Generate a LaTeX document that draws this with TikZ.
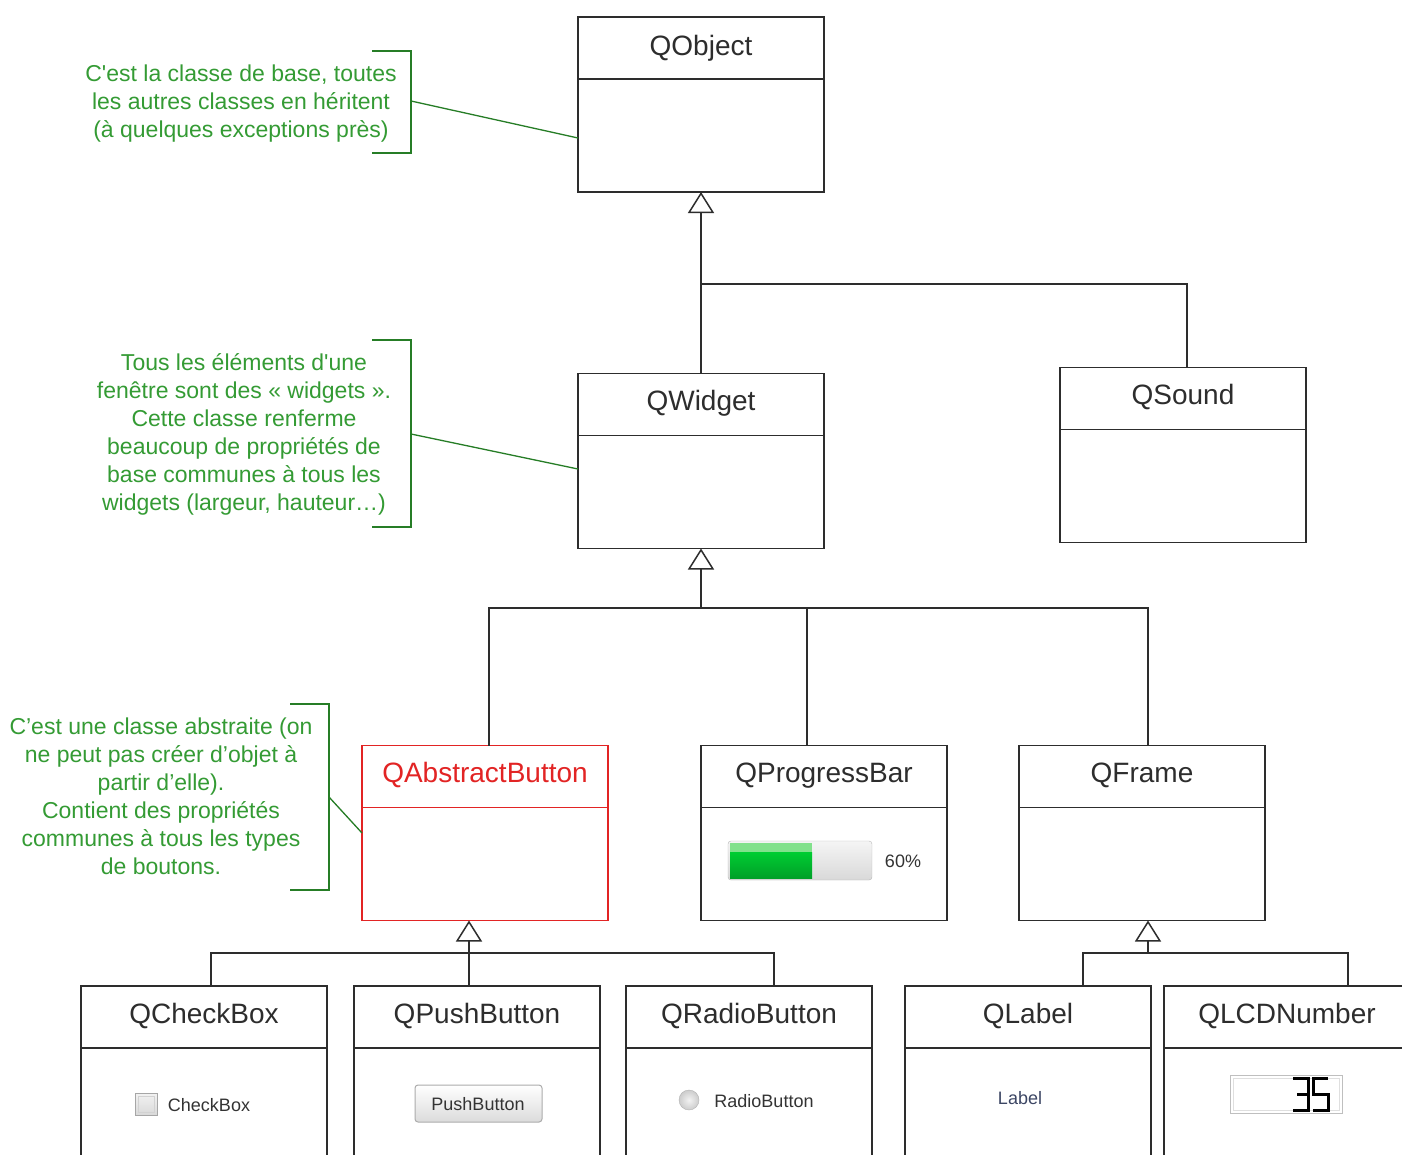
\documentclass[tikz,border=0pt]{standalone}
\usepackage{fontspec}
\setmainfont{Liberation Sans}
\usepackage{xcolor}
\usepackage{tikz}
\usetikzlibrary{arrows.meta}

\definecolor{notegreen}{RGB}{52,155,52}
\definecolor{bracegreen}{RGB}{38,125,38}
\definecolor{abstractred}{RGB}{226,36,36}
\definecolor{labelblue}{RGB}{60,70,100}
\definecolor{barlight}{RGB}{130,225,140}
\definecolor{barmid}{RGB}{0,205,50}
\definecolor{bardark}{RGB}{0,160,40}
\definecolor{umlgray}{RGB}{45,45,45}

\tikzset{
  classbox/.style={draw=umlgray, line width=1.5pt, minimum width=246pt, minimum height=175pt, inner sep=0pt, outer sep=0pt},
  classname/.style={anchor=base, text=umlgray, font=\fontsize{28}{34}\selectfont},
  note/.style={align=center, text=notegreen, font=\fontsize{23}{28}\selectfont},
  brace/.style={draw=bracegreen, line width=1.3pt},
  link/.style={draw=umlgray, line width=1.5pt},
  inherits/.style={link, -{Triangle[width=26pt, length=21pt, fill=white]}},
  widgettext/.style={font=\fontsize{18}{22}\selectfont, text=black!80},
}

\begin{document}
\begin{tikzpicture}[x=1pt, y=-1pt]

\useasboundingbox (0,0) rectangle (1402,1154);
\clip (0,0) rectangle (1402,1154);
\fill[white] (0,0) rectangle (1402,1154);

% classes
\node[classbox] (qobject) at (701,104.5) {};
\node[classbox] (qwidget) at (701,461) {};
\node[classbox] (qsound) at (1183,455) {};
\node[classbox, draw=abstractred, line width=1.2pt] (qabstract) at (485,833) {};
\node[classbox] (qprogress) at (824,833) {};
\node[classbox] (qframe) at (1142,833) {};
\node[classbox] (qcheckbox) at (204,1073.5) {};
\node[classbox] (qpushbutton) at (477,1073.5) {};
\node[classbox] (qradiobutton) at (749,1073.5) {};
\node[classbox] (qlabel) at (1028,1073.5) {};
\node[classbox] (qlcdnumber) at (1287,1073.5) {};

\draw[link] ([yshift=-62pt]qobject.north west) -- ([yshift=-62pt]qobject.north east);
\draw[link] ([yshift=-62pt]qwidget.north west) -- ([yshift=-62pt]qwidget.north east);
\draw[link] ([yshift=-62pt]qsound.north west) -- ([yshift=-62pt]qsound.north east);
\draw[line width=1.2pt, abstractred] ([yshift=-62pt]qabstract.north west) -- ([yshift=-62pt]qabstract.north east);
\draw[link] ([yshift=-62pt]qprogress.north west) -- ([yshift=-62pt]qprogress.north east);
\draw[link] ([yshift=-62pt]qframe.north west) -- ([yshift=-62pt]qframe.north east);
\draw[link] ([yshift=-62pt]qcheckbox.north west) -- ([yshift=-62pt]qcheckbox.north east);
\draw[link] ([yshift=-62pt]qpushbutton.north west) -- ([yshift=-62pt]qpushbutton.north east);
\draw[link] ([yshift=-62pt]qradiobutton.north west) -- ([yshift=-62pt]qradiobutton.north east);
\draw[link] ([yshift=-62pt]qlabel.north west) -- ([yshift=-62pt]qlabel.north east);
\draw[link] ([yshift=-62pt]qlcdnumber.north west) -- ([yshift=-62pt]qlcdnumber.north east);

\node[classname] (qobject-name) at ([yshift=-38pt]qobject.north) {QObject};
\node[classname] (qwidget-name) at ([yshift=-37pt]qwidget.north) {QWidget};
\node[classname] (qsound-name) at ([yshift=-37pt]qsound.north) {QSound};
\node[classname, text=abstractred] (qabstract-name) at ([yshift=-37pt]qabstract.north) {QAbstractButton};
\node[classname] (qprogress-name) at ([yshift=-37pt]qprogress.north) {QProgressBar};
\node[classname] (qframe-name) at ([yshift=-37pt]qframe.north) {QFrame};
\node[classname] (qcheckbox-name) at ([yshift=-37pt]qcheckbox.north) {QCheckBox};
\node[classname] (qpushbutton-name) at ([yshift=-37pt]qpushbutton.north) {QPushButton};
\node[classname] (qradiobutton-name) at ([yshift=-37pt]qradiobutton.north) {QRadioButton};
\node[classname] (qlabel-name) at ([yshift=-37pt]qlabel.north) {QLabel};
\node[classname] (qlcdnumber-name) at ([yshift=-37pt]qlcdnumber.north) {QLCDNumber};

% inheritance
\coordinate (j1) at (701,284);
\coordinate (j2) at (701,608);
\coordinate (j3) at (469,953);
\coordinate (j4) at (1148,953);

\draw[inherits] (qwidget.north) -- (qobject.south);
\draw[link] (j1) -| ([xshift=4pt]qsound.north);

\draw[inherits] (j2) -- (qwidget.south);
\draw[link] ([xshift=4pt]qabstract.north) |- (j2) -| ([xshift=6pt]qframe.north);
\draw[link] ([xshift=-17pt]qprogress.north) |- (j2);

\draw[inherits] (j3) -- ([xshift=-16pt]qabstract.south);
\draw[link] ([xshift=7pt]qcheckbox.north) |- (j3) -| ([xshift=25pt]qradiobutton.north);
\draw[link] ([xshift=-8pt]qpushbutton.north) -- (j3);

\draw[inherits] (j4) -- ([xshift=6pt]qframe.south);
\draw[link] ([xshift=55pt]qlabel.north) |- (j4) -| ([xshift=61pt]qlcdnumber.north);

% notes
\node[note] (note1) at (241,104) {C\textquotesingle est la classe de base, toutes\\les autres classes en héritent\\(à quelques exceptions près)};
\node[note] (note2) at (244,434) {Tous les éléments d\textquotesingle une\\fenêtre sont des « widgets ».\\Cette classe renferme\\beaucoup de propriétés de\\base communes à tous les\\widgets (largeur, hauteur…)};
\node[note] (note3) at (161,796) {C’est une classe abstraite (on\\ne peut pas créer d’objet à\\partir d’elle).\\Contient des propriétés\\communes à tous les types\\de boutons.};

\coordinate (note1-b) at (411,101);
\coordinate (note2-b) at (411,434);
\coordinate (note3-b) at (329,797);

\draw[brace] (372,51) -- (411,51) -- (411,153) -- (372,153);
\draw[brace] (372,340) -- (411,340) -- (411,527) -- (372,527);
\draw[brace] (290,704) -- (329,704) -- (329,890) -- (290,890);

\draw[brace] (note1-b) -- ([yshift=-33.5pt]qobject.west);
\draw[brace] (note2-b) -- ([yshift=-8pt]qwidget.west);
\draw[brace] (note3-b) -- (qabstract.west);

% progress bar
\shadedraw[rounded corners=3pt, draw=gray!55, top color=gray!8, bottom color=gray!30] (728,841) rectangle (872,880);
\shade[top color=barmid, bottom color=bardark] (730,852) rectangle (812,878);
\fill[barlight] (730,843) rectangle (812,852);
\node[widgettext] (pct) at (903,861) {60\%};

% check box
\shadedraw[draw=gray!70, top color=gray!10, bottom color=gray!30] (135,1093) rectangle (157,1115);
\draw[gray!35] (138,1096) rectangle (154,1112);
\node[widgettext] (cb-text) at (209,1105) {CheckBox};

% push button
\shadedraw[rounded corners=3pt, draw=gray!65, line width=1pt, top color=white, bottom color=gray!28] (415,1085) rectangle (542,1122);
\node[widgettext] (pb-text) at (478,1104) {PushButton};

% radio button
\shade[inner color=gray!10, outer color=gray!40] (689,1100) circle (10pt);
\draw[gray!60] (689,1100) circle (10pt);
\node[widgettext] (rb-text) at (764,1101) {RadioButton};

% label
\node[widgettext, text=labelblue] (lb-text) at (1020,1098) {Label};

% lcd number
\draw[gray!50, line width=1pt] (1230,1075) rectangle (1342,1113);
\draw[gray!25] (1233,1078) rectangle (1339,1110);
\draw[line width=3pt] (1293,1078) -- (1308,1078) -- (1308,1110) -- (1293,1110);
\draw[line width=3pt] (1297,1094) -- (1308,1094);
\draw[line width=3pt] (1328,1078) -- (1313,1078) -- (1313,1094) -- (1328,1094) -- (1328,1110) -- (1313,1110);

\end{tikzpicture}
\end{document}
